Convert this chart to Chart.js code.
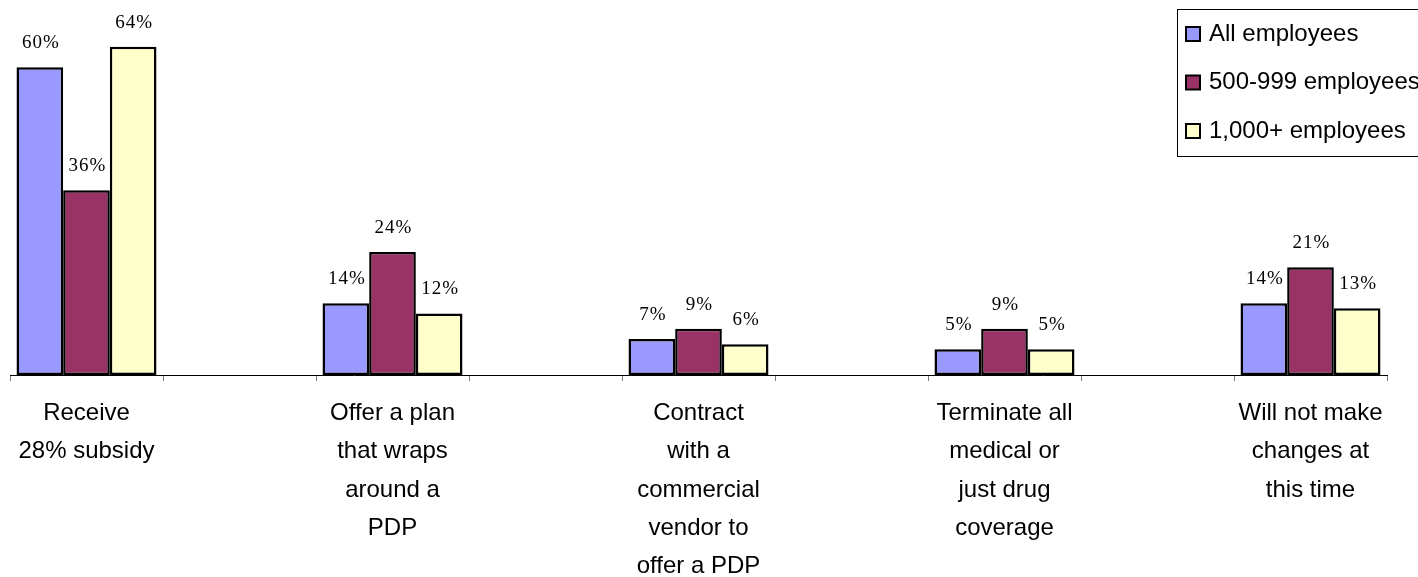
<!DOCTYPE html>
<html>
<head>
<meta charset="utf-8">
<script src="https://cdn.jsdelivr.net/npm/chart.js@4/dist/chart.umd.min.js"></script>
<style>
  html, body { margin: 0; padding: 0; background: #fff; overflow: hidden; }
  #wrap { width: 1418px; height: 577px; position: relative; }
</style>
</head>
<body>
<div id="wrap"><canvas id="myChart" width="1418" height="577"></canvas></div>
<script>
// categories (blank slots keep the gaps between groups)
const categories = [
  ["Receive", "28% subsidy"],
  "",
  ["Offer a plan", "that wraps", "around a", "PDP"],
  "",
  ["Contract", "with a", "commercial", "vendor to", "offer a PDP"],
  "",
  ["Terminate all", "medical or", "just drug", "coverage"],
  "",
  ["Will not make", "changes at", "this time"]
];

const seriesNames = ["All employees", "500-999 employees", "1,000+ employees"];
const allEmployees = [60, null, 14, null, 7, null, 5, null, 14];
const midEmployees = [36, null, 24, null, 9, null, 9, null, 21];
const bigEmployees = [64, null, 12, null, 6, null, 5, null, 13];
const seriesColors = ["#9999FF", "#993366", "#FFFFCC"];

// percent labels above each bar
const valueLabels = {
  id: 'valueLabels',
  afterDatasetsDraw(chart) {
    const ctx = chart.ctx;
    ctx.save();
    ctx.font = '19px "Liberation Serif", "Times New Roman", serif';
    ctx.letterSpacing = '1px';
    ctx.fillStyle = '#000';
    ctx.textAlign = 'center';
    ctx.textBaseline = 'middle';
    chart.data.datasets.forEach((ds, i) => {
      chart.getDatasetMeta(i).data.forEach((bar, j) => {
        const v = ds.data[j];
        if (v === null || v === undefined) return;
        ctx.fillText(v + '%', bar.x + 1, bar.y - 24);
      });
    });
    ctx.restore();
  }
};

// boxed legend in the top right corner (runs off the edge like the original)
const boxLegend = {
  id: 'boxLegend',
  afterDraw(chart) {
    const ctx = chart.ctx;
    ctx.save();
    ctx.strokeStyle = '#000';
    ctx.lineWidth = 1;
    ctx.strokeRect(1177.5, 9.5, 300, 147);
    ctx.font = '24px "Liberation Sans", Arial, sans-serif';
    ctx.textBaseline = 'middle';
    chart.data.datasets.forEach((ds, i) => {
      const y = 34 + i * 48.5;
      ctx.fillStyle = ds.backgroundColor;
      ctx.fillRect(1186, y - 7, 14, 14);
      ctx.lineWidth = 2;
      ctx.strokeRect(1186, y - 7, 14, 14);
      ctx.fillStyle = '#000';
      ctx.fillText(ds.label, 1209, y);
    });
    ctx.restore();
  }
};

const ctx = document.getElementById('myChart').getContext('2d');

new Chart(ctx, {
  type: 'bar',
  data: {
    labels: categories,
    datasets: [
      { label: seriesNames[0], data: allEmployees, backgroundColor: seriesColors[0] },
      { label: seriesNames[1], data: midEmployees, backgroundColor: seriesColors[1] },
      { label: seriesNames[2], data: bigEmployees, backgroundColor: seriesColors[2] }
    ]
  },
  options: {
    responsive: false,
    animation: false,
    devicePixelRatio: 1,
    layout: { padding: { top: 16, left: 10, right: 31, bottom: 0 } },
    datasets: {
      bar: {
        borderColor: '#000',
        borderWidth: 2.5,
        borderSkipped: false,
        categoryPercentage: 0.915,
        barPercentage: 1,
        skipNull: false
      }
    },
    plugins: {
      legend: { display: false },
      tooltip: { enabled: false }
    },
    scales: {
      x: {
        grid: {
          offset: true,
          drawOnChartArea: false,
          drawTicks: true,
          tickLength: 6,
          color: '#777'
        },
        border: { color: '#000', width: 1 },
        ticks: {
          autoSkip: false,
          maxRotation: 0,
          minRotation: 0,
          padding: 13,
          color: '#000',
          font: { family: '"Liberation Sans", Arial, sans-serif', size: 24, lineHeight: 1.6 }
        },
        afterFit(scale) { scale.height = 202; }
      },
      y: {
        display: false,
        min: 0,
        max: 70
      }
    }
  },
  plugins: [valueLabels, boxLegend]
});
</script>
</body>
</html>
